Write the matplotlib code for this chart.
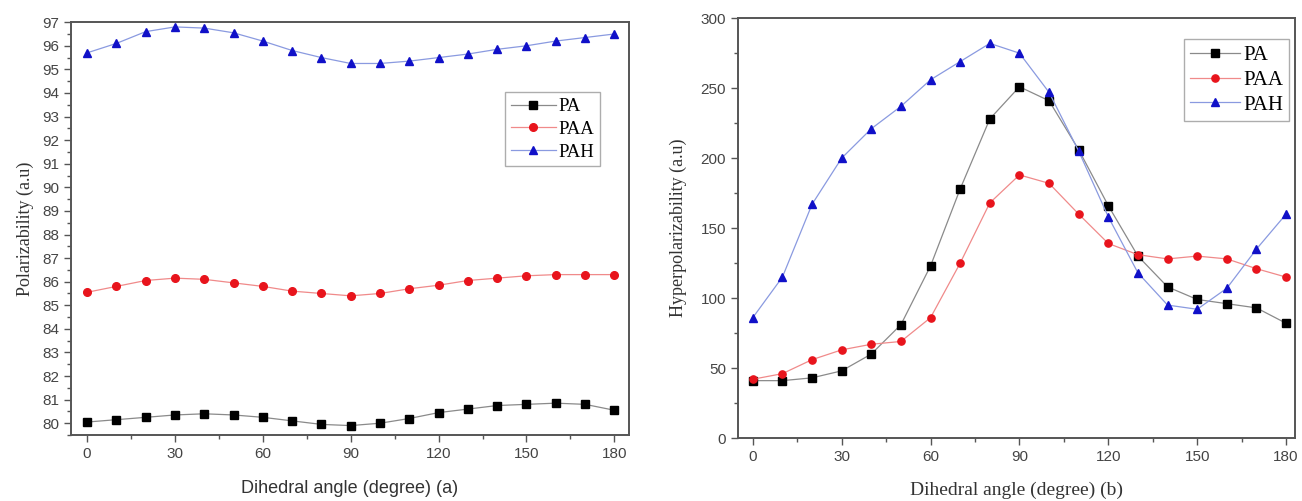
import matplotlib
matplotlib.use('Agg')
import matplotlib.pyplot as plt
from matplotlib.ticker import MultipleLocator

angle = [0, 10, 20, 30, 40, 50, 60, 70, 80, 90, 100, 110, 120, 130, 140, 150, 160, 170, 180]

# polarizability (a)
pol_pa = [80.05, 80.15, 80.25, 80.35, 80.4, 80.35, 80.25, 80.1, 79.95, 79.9,
          80.0, 80.2, 80.45, 80.6, 80.75, 80.8, 80.85, 80.8, 80.55]
pol_paa = [85.55, 85.8, 86.05, 86.15, 86.1, 85.95, 85.8, 85.6, 85.5, 85.4,
           85.5, 85.7, 85.85, 86.05, 86.15, 86.25, 86.3, 86.3, 86.3]
pol_pah = [95.7, 96.1, 96.6, 96.8, 96.75, 96.55, 96.2, 95.8, 95.5, 95.25,
           95.25, 95.35, 95.5, 95.65, 95.85, 96.0, 96.2, 96.35, 96.5]

# hyperpolarizability (b)
hyp_pa = [41, 41, 43, 48, 60, 81, 123, 178, 228, 251,
          241, 206, 166, 130, 108, 99, 96, 93, 82]
hyp_paa = [42, 46, 56, 63, 67, 69, 86, 125, 168, 188,
           182, 160, 139, 131, 128, 130, 128, 121, 115]
hyp_pah = [86, 115, 167, 200, 221, 237, 256, 269, 282, 275,
           247, 205, 158, 118, 95, 92, 107, 135, 160]

labels = ['PA', 'PAA', 'PAH']
styles = [('s', 'black', '#8a8a8a'), ('o', '#e8141c', '#f08a8a'), ('^', '#1010c8', '#8a9ae0')]

serif = ['Liberation Serif', 'DejaVu Serif']
sans = ['Liberation Sans', 'DejaVu Sans']

fig = plt.figure(figsize=(13.02, 5.01), dpi=100)
ax1 = fig.add_axes([0.0545, 0.1317, 0.4286, 0.824])
ax2 = fig.add_axes([0.5668, 0.1257, 0.4278, 0.838])

def draw(ax, series, msize):
    for vals, lab, (mk, mc, lc) in zip(series, labels, styles):
        ax.plot(angle, vals, color=lc, lw=0.9, marker=mk, ms=msize,
                mfc=mc, mec=mc, label=lab)
    for sp in ax.spines.values():
        sp.set_color('#555555')
        sp.set_linewidth(1.4)
    ax.tick_params(which='major', direction='out', length=5, width=1, color='#555555',
                   labelsize=11, labelcolor='#444444')
    ax.tick_params(which='minor', direction='out', length=3, width=1, color='#555555')
    ax.xaxis.set_major_locator(MultipleLocator(30))
    ax.xaxis.set_minor_locator(MultipleLocator(15))
    for t in ax.get_xticklabels() + ax.get_yticklabels():
        t.set_family(sans)

def style_legend(leg):
    leg.get_frame().set_edgecolor('#999999')
    leg.get_frame().set_linewidth(1)

draw(ax1, [pol_pa, pol_paa, pol_pah], 5.5)
ax1.set_xlim(-5.5, 185)
ax1.set_ylim(79.5, 97)
ax1.yaxis.set_major_locator(MultipleLocator(1))
ax1.yaxis.set_minor_locator(MultipleLocator(0.5))
for t in ax1.get_yticklabels():
    t.set_family(sans)
ax1.set_xlabel('Dihedral angle (degree) (a)', family=sans, fontsize=13, color='#333333', labelpad=14)
ax1.set_ylabel('Polarizability (a.u)', family=serif, fontsize=13, color='#333333', labelpad=6)
leg1 = ax1.legend(loc='upper left', bbox_to_anchor=(0.778, 0.83), frameon=True, fancybox=False,
                  prop={'family': serif, 'size': 13.5}, handlelength=2.4, handletextpad=0.15,
                  borderpad=0.3, labelspacing=0.3, borderaxespad=0)
style_legend(leg1)

draw(ax2, [hyp_pa, hyp_paa, hyp_pah], 5.2)
ax2.set_xlim(-5, 183)
ax2.set_ylim(0, 300)
ax2.yaxis.set_major_locator(MultipleLocator(50))
ax2.yaxis.set_minor_locator(MultipleLocator(25))
for t in ax2.get_yticklabels():
    t.set_family(sans)
ax2.set_xlabel('Dihedral angle (degree) (b)', family=serif, fontsize=14, color='#333333', labelpad=13)
ax2.set_ylabel('Hyperpolarizability (a.u)', family=serif, fontsize=13, color='#333333', labelpad=10)
leg2 = ax2.legend(loc='upper left', bbox_to_anchor=(0.80, 0.95), frameon=True, fancybox=False,
                  prop={'family': serif, 'size': 15}, handlelength=2.4, handletextpad=0.15,
                  borderpad=0.3, labelspacing=0.25, borderaxespad=0)
style_legend(leg2)

plt.savefig('out.png', dpi=100)
